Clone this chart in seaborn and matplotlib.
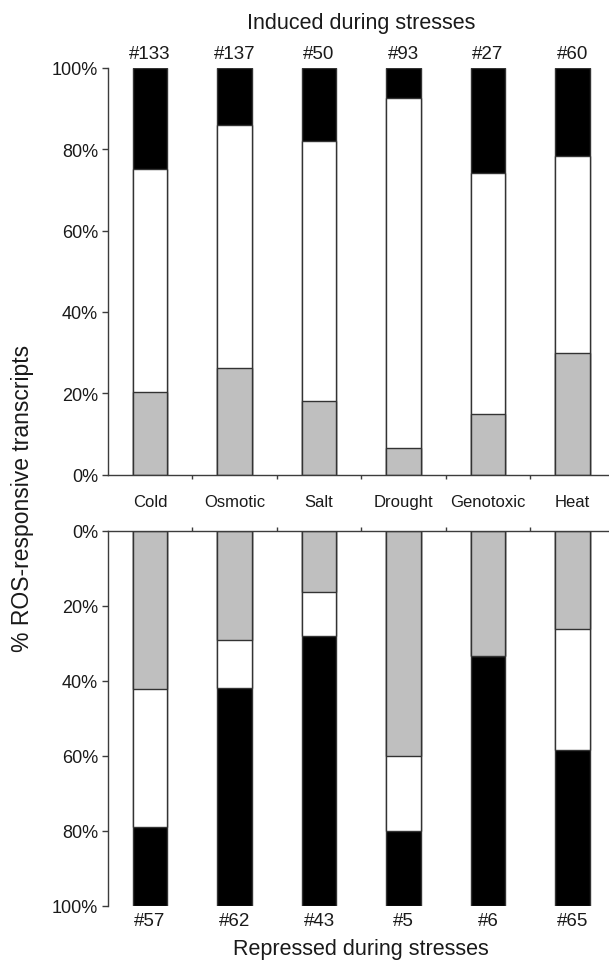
import numpy as np
import pandas as pd
import matplotlib
matplotlib.use('Agg')
import matplotlib.pyplot as plt
import matplotlib.transforms as mtransforms
import seaborn as sns

stresses = ['Cold', 'Osmotic', 'Salt', 'Drought', 'Genotoxic', 'Heat']
induced_n = ['#133', '#137', '#50', '#93', '#27', '#60']
repressed_n = ['#57', '#62', '#43', '#5', '#6', '#65']

# share of each segment in % (gray / white / black)
induced_gray = [20.3, 26.3, 18.0, 6.5, 14.8, 30.0]
induced_white = [54.9, 59.8, 64.0, 86.0, 59.3, 48.3]
induced_black = [24.8, 13.9, 18.0, 7.5, 25.9, 21.7]

repressed_gray = [42.1, 29.0, 16.3, 60.0, 33.3, 26.2]
repressed_white = [36.8, 12.9, 11.6, 20.0, 0.0, 32.3]
repressed_black = [21.1, 58.1, 72.1, 20.0, 66.7, 41.5]

sns.set_style('ticks')
plt.rcParams['font.family'] = ['Liberation Sans', 'DejaVu Sans']
txt = '#1a1a1a'
edge = '#333333'
spine = '#3c3c3c'

def stack(gray, white, black):
    d = pd.DataFrame({'stress': stresses, 'gray': gray, 'white': white, 'black': black})
    d['lvl1'] = d['gray']
    d['lvl2'] = d['gray'] + d['white']
    d['lvl3'] = d['lvl2'] + d['black']
    return d

up = stack(induced_gray, induced_white, induced_black)
down = stack(repressed_gray, repressed_white, repressed_black)

W, H = 609, 962
fig = plt.figure(figsize=(W / 100, H / 100), dpi=100)
left = 107.75
ax1 = fig.add_axes([left / W, 1 - 475.5 / H, 1 - left / W, (475.5 - 69) / H])
ax2 = fig.add_axes([left / W, 1 - 907 / H, 1 - left / W, (907 - 532) / H])

for ax, d in [(ax1, up), (ax2, down)]:
    for col, c in [('lvl3', 'black'), ('lvl2', 'white'), ('lvl1', '#bfbfbf')]:
        sns.barplot(data=d, x='stress', y=col, order=stresses, color=c,
                    saturation=1, width=0.41, edgecolor=edge, linewidth=1.0,
                    errorbar=None, ax=ax)
    ax.set_xlabel('')
    ax.set_ylabel('')
    ax.set_xlim(-0.5, -0.5 + (W - left) / 84.5)
    ax.set_xticks(np.arange(len(stresses) - 1) + 0.5)
    ax.set_xticklabels([])
    ax.set_yticks(range(0, 101, 20))
    ax.set_yticklabels([f'{v}%' for v in range(0, 101, 20)], fontsize=13, color=txt)
    ax.tick_params(axis='y', length=4, width=1, color=spine, pad=3)
    ax.tick_params(axis='x', length=3, width=1, color=spine)
    ax.spines['right'].set_visible(False)
    for s in ax.spines.values():
        s.set_color(spine)
        s.set_linewidth(1.0)

ax1.set_ylim(0, 100)
ax1.spines['top'].set_visible(False)

ax2.set_ylim(100, 0)
ax2.spines['bottom'].set_visible(False)
ax2.xaxis.tick_top()
ax2.set_xticklabels([])

tr = mtransforms.blended_transform_factory(ax1.transData, fig.transFigure)
for i, name in enumerate(stresses):
    ax1.text(i, 1 - 503 / H, name, transform=tr, ha='center', va='center',
             fontsize=12, color=txt)
    ax1.text(i, 1 - 54.5 / H, induced_n[i], transform=tr, ha='center', va='center',
             fontsize=13.5, color=txt)
    ax1.text(i, 1 - 921.5 / H, repressed_n[i], transform=tr, ha='center', va='center',
             fontsize=13.5, color=txt)

ax1.text(2.5, 1 - 23 / H, 'Induced during stresses', transform=tr, ha='center',
         va='center', fontsize=15.5, color=txt)
ax1.text(2.5, 1 - 950 / H, 'Repressed during stresses', transform=tr, ha='center',
         va='center', fontsize=15.5, color=txt)
fig.text(23 / W, 1 - 498 / H, '% ROS-responsive transcripts', rotation=90,
         ha='center', va='center', fontsize=16.5, color=txt)

fig.savefig('out.png', dpi=100)
